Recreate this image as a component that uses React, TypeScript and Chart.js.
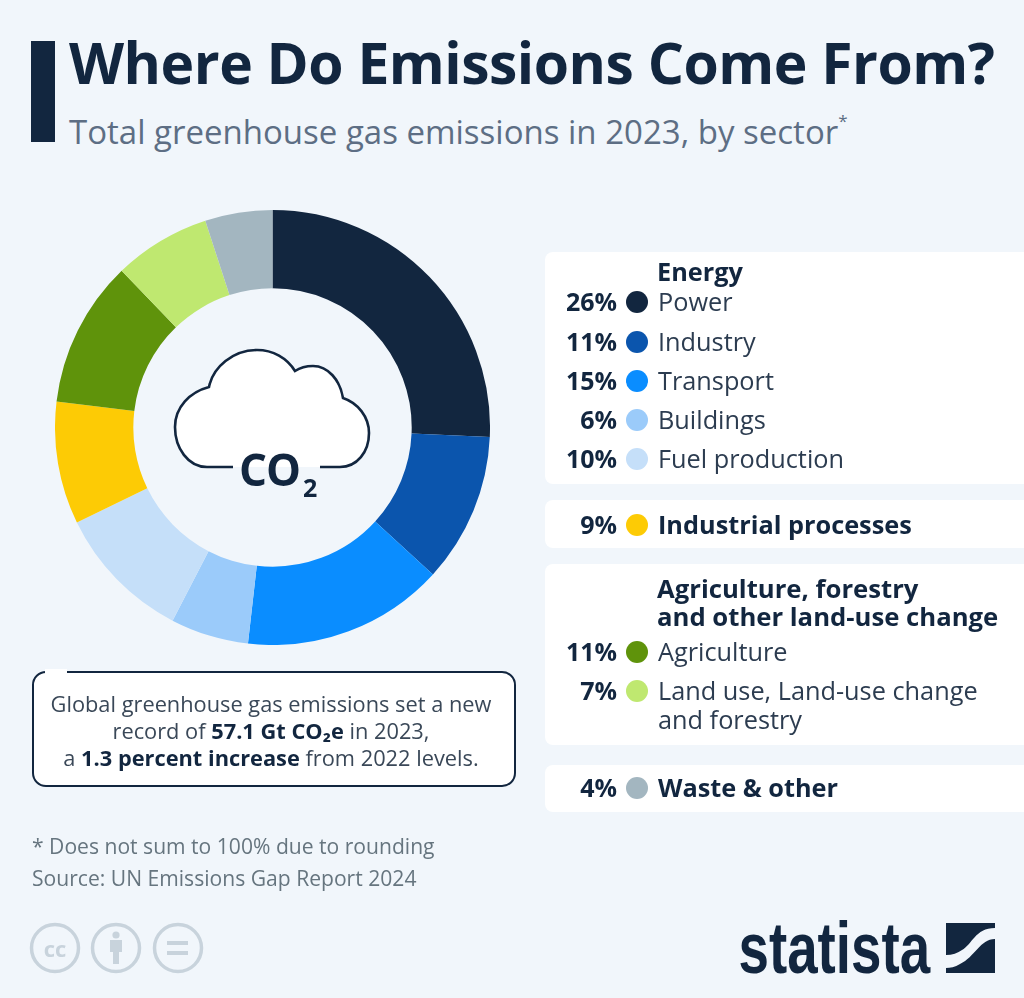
import React, { useEffect, useRef } from "react";
import { Chart, registerables } from "chart.js";

Chart.register(...registerables);

const sectors = ["Power", "Industry", "Transport", "Buildings", "Fuel production", "Industrial processes", "Agriculture", "Land use, Land-use change\nand forestry", "Waste & other"];
const sliceShares = [25.7, 11.1, 15, 5.8, 10.2, 9.1, 10.9, 7.2, 5];
const percentLabels = ["26%", "11%", "15%", "6%", "10%", "9%", "11%", "7%", "4%"];
const sliceColors = ["#12263f", "#0b55ad", "#0a8dff", "#9bcbfa", "#c5dff9", "#fdcb05", "#5f930b", "#bfe870", "#a3b6c0"];
const rowCentres = [301, 341, 380, 419, 458, 524, 651, 690, 787];
const boldRows = [5, 8];

const NAVY = "#12263f";
const BG = "#f1f6fb";
const FONT = "'Open Sans', sans-serif";

function T({ x, y, size, weight = 400, color = NAVY, align = "left", children, extra }: any) {
  const style: any = {
    position: "absolute",
    top: y,
    fontFamily: FONT,
    fontSize: size,
    fontWeight: weight,
    color,
    lineHeight: 1,
    whiteSpace: "nowrap",
    transform: "translateY(-50%)",
    ...extra,
  };
  if (align === "right") style.right = 1024 - x;
  else if (align === "center") { style.left = x; style.transform = "translate(-50%,-50%)"; }
  else style.left = x;
  return <div style={style}>{children}</div>;
}

function Panel({ top, bottom }: { top: number; bottom: number }) {
  return <div style={{ position: "absolute", left: 545, top, width: 479, height: bottom - top, background: "#fff", borderRadius: "8px 0 0 8px" }} />;
}

function Doughnut() {
  const ref = useRef<HTMLCanvasElement>(null);
  useEffect(() => {
    const chart = new Chart(ref.current!, {
      type: "doughnut",
      data: {
        labels: sectors,
        datasets: [{ data: sliceShares, backgroundColor: sliceColors, borderWidth: 0 }],
      },
      options: {
        responsive: false,
        animation: false,
        cutout: "64%",
        layout: { padding: 0 },
        plugins: { legend: { display: false }, tooltip: { enabled: false } },
      },
    });
    return () => chart.destroy();
  }, []);
  return <canvas ref={ref} width={435} height={435} style={{ position: "absolute", left: 55, top: 210, width: 435, height: 435 }} />;
}

export default function App() {
  return (
    <div style={{ position: "fixed", left: 0, top: 0, width: 1024, height: 998, background: BG, overflow: "hidden" }}>
      <div style={{ position: "absolute", left: 31, top: 41, width: 24, height: 101, background: NAVY }} />
      <T x={69} y={62} size={57} weight={700} extra={{ letterSpacing: -0.5 }}>Where Do Emissions Come From?</T>
      <T x={69} y={131} size={33} color="#5d6e84">
        Total greenhouse gas emissions in 2023, by sector<sup style={{ fontSize: 17, verticalAlign: "top", position: "relative", top: -3 }}>*</sup>
      </T>

      <Doughnut />

      <svg width={1024} height={998} style={{ position: "absolute", left: 0, top: 0 }}>
        <path
          d="M233 467 H207 C188 467 175 448 175 427 C175 407 190 392 209 387 C213 367 233 350 257 350 C273 350 287 358 295 371 C301 367 307 366 313 366 C328 366 340 380 343 398 C358 403 369 417 369 433 C369 452 357 467 340 467 H320"
          fill="#fff" stroke={NAVY} strokeWidth={2.6}
        />
      </svg>
      <T x={239} y={469} size={44} weight={700} extra={{ letterSpacing: -1 }}>CO</T>
      <T x={303} y={487} size={25} weight={700}>2</T>

      <Panel top={252} bottom={484} />
      <Panel top={500} bottom={548} />
      <Panel top={564} bottom={745} />
      <Panel top={765} bottom={812} />

      <T x={657} y={272} size={25.3} weight={700}>Energy</T>
      <T x={657} y={603} size={25.7} weight={700} extra={{ lineHeight: "28px" }}>
        Agriculture, forestry<br />and other land-use change
      </T>

      {sectors.map((s, i) => {
        const isBold = boldRows.includes(i);
        const lines = s.split("\n");
        return (
          <React.Fragment key={s}>
            <T x={617} y={rowCentres[i]} size={25} weight={700} align="right">{percentLabels[i]}</T>
            <div style={{ position: "absolute", left: 626, top: rowCentres[i] - 10, width: 22, height: 22, borderRadius: "50%", background: sliceColors[i] }} />
            <T
              x={658}
              y={rowCentres[i] + ((lines.length - 1) * 29) / 2}
              size={25.3}
              weight={isBold ? 700 : 400}
              color={isBold ? NAVY : "#2c3c50"}
              extra={{ lineHeight: "29px" }}
            >
              {lines.map((l, k) => <div key={k}>{l}</div>)}
            </T>
          </React.Fragment>
        );
      })}

      <div style={{ position: "absolute", left: 32, top: 671, width: 484, height: 116, boxSizing: "border-box", background: "#fff", border: `2.5px solid ${NAVY}`, borderRadius: 14 }} />
      <div style={{ position: "absolute", left: 45, top: 669, width: 22, height: 6, background: "#fff" }} />
      <T x={271} y={730} size={21.8} align="center" color="#3a4858" extra={{ lineHeight: "27px", textAlign: "center" }}>
        Global greenhouse gas emissions set a new<br />
        record of <b style={{ color: NAVY }}>57.1 Gt CO₂e</b> in 2023,<br />
        a <b style={{ color: NAVY }}>1.3 percent increase</b> from 2022 levels.
      </T>

      <T x={32} y={846} size={21.1} color="#66757f">* Does not sum to 100% due to rounding</T>
      <T x={32} y={878} size={21.1} color="#66757f">Source: UN Emissions Gap Report 2024</T>

      <svg width={1024} height={998} style={{ position: "absolute", left: 0, top: 0 }}>
        <g fill="none" stroke="#c8d3dc" strokeWidth={3.5}>
          <circle cx={55} cy={948} r={23.5} />
          <circle cx={116} cy={948} r={23.5} />
          <circle cx={178} cy={948} r={23.5} />
        </g>
        <g fill="#c8d3dc">
          <circle cx={116} cy={935} r={3.6} />
          <path d="M110 940 H122 V952 H119 V964 H113 V952 H110 Z" />
          <rect x={167} y={941} width={21} height={4} />
          <rect x={167} y={951} width={21} height={4} />
        </g>
        <path d="M946 923 H995 V928 C975 928 972 945 962 950 C958 953 952 955 946 955 Z M995 939 C980 939 975 957 960 964 C955 967 950 968 946 968 V973 H995 Z" fill={NAVY} />
      </svg>
      <T x={55} y={948} size={22} weight={700} align="center" color="#c8d3dc">cc</T>
      <T x={930} y={948} size={72} weight={700} align="right" extra={{ fontFamily: "'Liberation Sans', sans-serif", transform: "translateY(-50%) scaleX(0.76)", transformOrigin: "right center" }}>statista</T>
    </div>
  );
}
